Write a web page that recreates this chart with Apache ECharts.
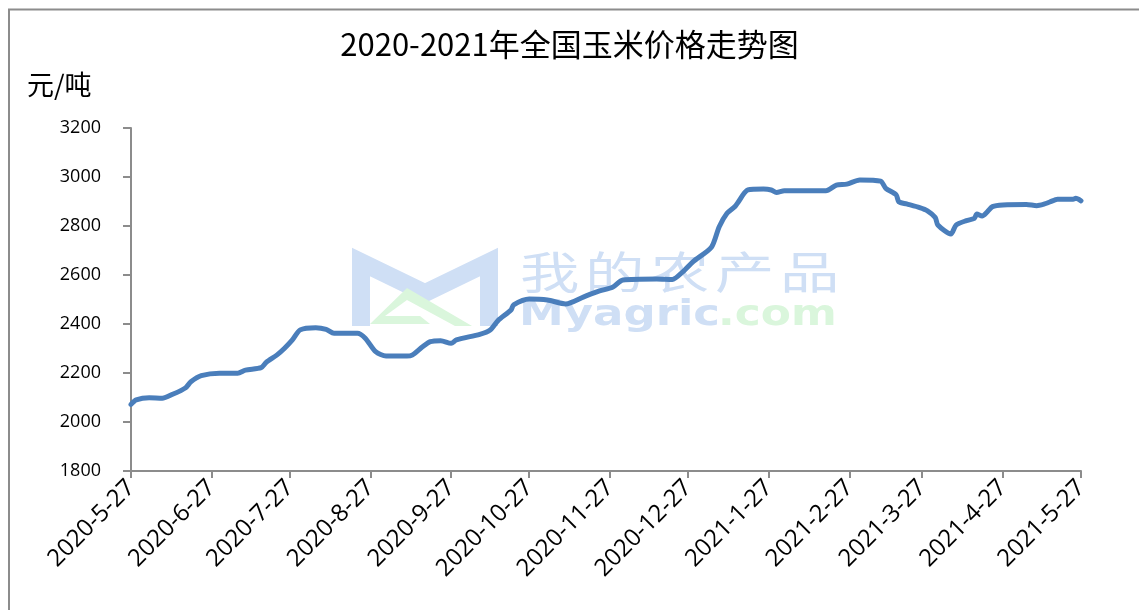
<!DOCTYPE html>
<html>
<head>
<meta charset="utf-8">
<script src="https://cdn.jsdelivr.net/npm/echarts@6/dist/echarts.min.js"></script>
<style>
html,body{margin:0;padding:0;background:#fff;}
#chart{width:1139px;height:610px;}
</style>
</head>
<body>
<div id="chart"></div>
<script>
// ---- data ----
var dates = [
  '2020-05-27','2020-05-29','2020-06-03','2020-06-08','2020-06-12','2020-06-17','2020-06-19','2020-06-23','2020-06-30',
  '2020-07-07','2020-07-10','2020-07-16','2020-07-18','2020-07-22','2020-07-25','2020-07-28','2020-07-31',
  '2020-08-06','2020-08-10','2020-08-13','2020-08-22','2020-08-25','2020-08-29',
  '2020-09-02','2020-09-10','2020-09-12','2020-09-16','2020-09-19','2020-09-23','2020-09-27','2020-09-29',
  '2020-10-08','2020-10-12','2020-10-15','2020-10-20','2020-10-21','2020-10-27',
  '2020-11-03','2020-11-10','2020-11-17','2020-11-23','2020-11-28',
  '2020-12-02','2020-12-15','2020-12-21','2020-12-25','2020-12-29',
  '2021-01-05','2021-01-08','2021-01-11','2021-01-14','2021-01-15','2021-01-19','2021-01-25','2021-01-28','2021-01-30',
  '2021-02-02','2021-02-18','2021-02-22','2021-02-26',
  '2021-03-03','2021-03-11','2021-03-13','2021-03-17','2021-03-18','2021-03-21','2021-03-26','2021-03-29',
  '2021-04-01','2021-04-02','2021-04-07','2021-04-09','2021-04-13','2021-04-16','2021-04-17','2021-04-19','2021-04-21','2021-04-23','2021-04-27',
  '2021-05-06','2021-05-10','2021-05-13','2021-05-15','2021-05-18','2021-05-24','2021-05-25','2021-05-27'
];
var prices = [
  2072,2090,2099,2097,2113,2140,2164,2189,2199,
  2199,2212,2222,2244,2273,2301,2335,2376,
  2385,2378,2362,2362,2342,2287,
  2269,2269,2273,2307,2328,2332,2321,2335,
  2358,2376,2414,2457,2478,2502,
  2498,2482,2511,2535,2550,
  2580,2584,2582,2613,2655,
  2713,2797,2852,2879,2893,2947,2951,2947,2937,
  2944,2944,2967,2971,
  2988,2983,2954,2927,2899,2890,2875,2862,
  2835,2804,2767,2804,2822,2831,2849,2841,2858,2879,2886,
  2888,2883,2890,2898,2909,2909,2913,2903
];
var tickDates = ['2020-05-27','2020-06-27','2020-07-27','2020-08-27','2020-09-27','2020-10-27','2020-11-27',
  '2020-12-27','2021-01-27','2021-02-27','2021-03-27','2021-04-27','2021-05-27'];
var tickLabels = ['2020-5-27','2020-6-27','2020-7-27','2020-8-27','2020-9-27','2020-10-27','2020-11-27',
  '2020-12-27','2021-1-27','2021-2-27','2021-3-27','2021-4-27','2021-5-27'];
var yTicks = [1800, 2000, 2200, 2400, 2600, 2800, 3000, 3200];
var titleText = '2020-2021年全国玉米价格走势图';
var yUnit = '元/吨';

// day offset from the first date (UTC based, so no DST drift)
function dayNum(s) {
  var p = s.split('-');
  return Math.round(Date.UTC(+p[0], +p[1] - 1, +p[2]) / 86400000);
}
var day0 = dayNum(tickDates[0]);
function toX(s) { return dayNum(s) - day0; }
var tickX = tickDates.map(toX);
var seriesData = dates.map(function (d, i) { return [toX(d), prices[i]]; });

var chart = echarts.init(document.getElementById('chart'), null, {renderer: 'canvas'});

var wmBlue = '#cfdff5';
var wmGreen = '#daf6dc';
var cjk = ['我','的','农','产','品'];
var wmGraphics = [
  {type: 'polyline', silent: true, z: 0, shape: {points: [[9, 700], [9, 9.5], [1200, 9.5]]},
   style: {stroke: '#8c8c8c', lineWidth: 2, fill: null}},
  {type: 'polyline', silent: true, z: 0,
   shape: {points: [[361, 326], [361, 262], [425, 293], [489, 262], [489, 326]]},
   style: {stroke: wmBlue, lineWidth: 18, fill: null, lineJoin: 'miter'}},
  {type: 'polygon', silent: true, z: 0,
   shape: {points: [[370, 324], [407, 288], [472, 326], [455, 326], [407, 300], [385, 316], [420, 316], [430, 324]]},
   style: {fill: wmGreen}}
];
cjk.forEach(function (c, i) {
  wmGraphics.push({type: 'text', silent: true, z: 0, x: 520 + i * 65, y: 250, scaleX: 1.35,
    style: {text: c, font: '44px "Noto Sans CJK SC"', fill: wmBlue}});
});
wmGraphics.push({type: 'text', silent: true, z: 0, x: 519, y: 298, scaleX: 1.25,
  style: {text: 'Myagric', font: 'bold 36px "DejaVu Sans"', fill: wmBlue}});
wmGraphics.push({type: 'text', silent: true, z: 0, x: 718, y: 298, scaleX: 1.22,
  style: {text: '.com', font: 'bold 36px "DejaVu Sans"', fill: wmGreen}});

chart.setOption({
  animation: false,
  backgroundColor: '#ffffff',
  title: {
    text: titleText,
    left: 'center',
    top: 24,
    textStyle: {fontFamily: '"Noto Sans CJK SC"', fontSize: 31, fontWeight: 'normal', color: '#000'}
  },
  graphic: wmGraphics,
  grid: {left: 131, right: 58, top: 128, bottom: 139, containLabel: false},
  xAxis: {
    type: 'value',
    min: tickX[0],
    max: tickX[tickX.length - 1],
    splitLine: {show: false},
    axisLine: {show: true, lineStyle: {color: '#8c8c8c', width: 2}},
    axisTick: {show: true, length: 7, lineStyle: {color: '#8c8c8c', width: 2}, customValues: tickX},
    axisLabel: {
      customValues: tickX,
      rotate: 45,
      margin: 13,
      fontFamily: '"Open Sans"',
      fontSize: 24,
      color: '#000',
      hideOverlap: false,
      formatter: function (v) {
        var idx = tickX.indexOf(Math.round(v));
        return idx < 0 ? '' : tickLabels[idx];
      }
    }
  },
  yAxis: {
    type: 'value',
    min: yTicks[0],
    max: yTicks[yTicks.length - 1],
    interval: 200,
    name: yUnit,
    nameLocation: 'end',
    nameGap: 30,
    nameTextStyle: {fontFamily: '"Noto Sans CJK SC"', fontSize: 27, color: '#000', align: 'left', padding: [0, 0, 0, -104]},
    splitLine: {show: false},
    axisLine: {show: true, lineStyle: {color: '#8c8c8c', width: 2}},
    axisTick: {show: true, inside: false, length: 8, lineStyle: {color: '#8c8c8c', width: 2}},
    axisLabel: {margin: 30, fontFamily: '"Open Sans"', fontSize: 18, color: '#000',
      formatter: function (v) { return String(v); }}
  },
  series: [{
    type: 'line',
    data: seriesData,
    showSymbol: false,
    smooth: 0.25,
    z: 5,
    lineStyle: {color: '#4a7ebb', width: 5, cap: 'round', join: 'round'}
  }]
});
</script>
</body>
</html>
